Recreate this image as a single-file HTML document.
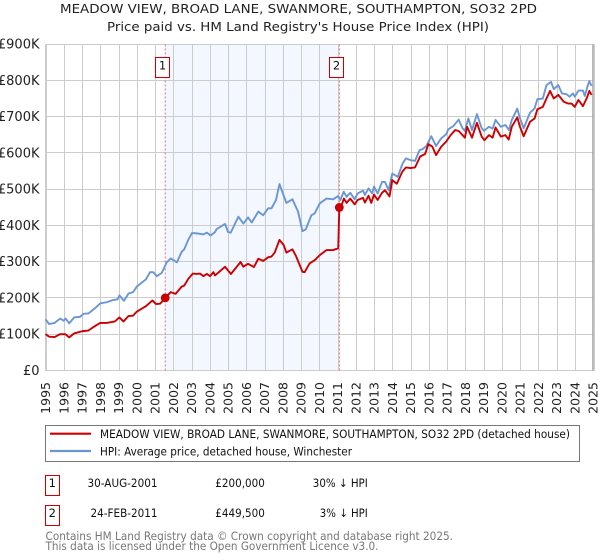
<!DOCTYPE html>
<html>
<head>
<meta charset="utf-8">
<title>Price paid vs. HPI</title>
<style>
html,body{margin:0;padding:0;background:#fff;width:600px;height:560px;overflow:hidden}
svg{display:block;font-family:"DejaVu Sans","Liberation Sans",sans-serif}
</style>
</head>
<body>
<svg id="chart" width="600" height="560" viewBox="0 0 600 560" xmlns="http://www.w3.org/2000/svg">
  <text x="298.5" y="13" text-anchor="middle" font-size="12.5" fill="#222" textLength="477" lengthAdjust="spacingAndGlyphs">MEADOW VIEW, BROAD LANE, SWANMORE, SOUTHAMPTON, SO32 2PD</text>
  <text x="298" y="31" text-anchor="middle" font-size="12.5" fill="#222" textLength="382" lengthAdjust="spacingAndGlyphs">Price paid vs. HM Land Registry's House Price Index (HPI)</text>
  <g id="plot"></g>
  <rect x="45.5" y="425.5" width="534" height="36" fill="#fff" stroke="#777" stroke-width="1"/>
  <line x1="50" x2="91" y1="433.7" y2="433.7" stroke="#cc0000" stroke-width="2.2"/>
  <text x="100" y="438" font-size="11.5" fill="#111" textLength="470" lengthAdjust="spacingAndGlyphs">MEADOW VIEW, BROAD LANE, SWANMORE, SOUTHAMPTON, SO32 2PD (detached house)</text>
  <line x1="50" x2="91" y1="451" y2="451" stroke="#6a96d4" stroke-width="2.2"/>
  <text x="100" y="455.5" font-size="11.5" fill="#111" textLength="252" lengthAdjust="spacingAndGlyphs">HPI: Average price, detached house, Winchester</text>

  <rect x="45.5" y="475.5" width="14" height="20" fill="#fff" stroke="#cc0000" stroke-width="1"/>
  <text x="52.3" y="487" text-anchor="middle" font-size="11.5" fill="#111">1</text>
  <text x="157.5" y="487" text-anchor="end" font-size="11.5" fill="#111" textLength="70" lengthAdjust="spacingAndGlyphs">30-AUG-2001</text>
  <text x="264.8" y="487" text-anchor="end" font-size="11.5" fill="#111" textLength="49.5" lengthAdjust="spacingAndGlyphs">£200,000</text>
  <text x="367.8" y="487" text-anchor="end" font-size="11.5" fill="#111" textLength="55" lengthAdjust="spacingAndGlyphs">30% ↓ HPI</text>

  <rect x="45.5" y="505.5" width="14" height="20" fill="#fff" stroke="#cc0000" stroke-width="1"/>
  <text x="52.3" y="517" text-anchor="middle" font-size="11.5" fill="#111">2</text>
  <text x="157.5" y="517" text-anchor="end" font-size="11.5" fill="#111" textLength="67" lengthAdjust="spacingAndGlyphs">24-FEB-2011</text>
  <text x="264.8" y="517" text-anchor="end" font-size="11.5" fill="#111" textLength="49.5" lengthAdjust="spacingAndGlyphs">£449,500</text>
  <text x="367.8" y="517" text-anchor="end" font-size="11.5" fill="#111" textLength="48" lengthAdjust="spacingAndGlyphs">3% ↓ HPI</text>

  <text x="45.5" y="540" font-size="11.5" fill="#777" textLength="407.5" lengthAdjust="spacingAndGlyphs">Contains HM Land Registry data © Crown copyright and database right 2025.</text>
  <text x="45.5" y="550" font-size="11.5" fill="#777" textLength="333" lengthAdjust="spacingAndGlyphs">This data is licensed under the Open Government Licence v3.0.</text>
</svg>
<script>
const yearTicks = [1995,1996,1997,1998,1999,2000,2001,2002,2003,2004,2005,2006,2007,2008,2009,2010,2011,2012,2013,2014,2015,2016,2017,2018,2019,2020,2021,2022,2023,2024,2025];
const valueTicks = [0,100,200,300,400,500,600,700,800,900];
const valueTickLabels = ['£0','£100K','£200K','£300K','£400K','£500K','£600K','£700K','£800K','£900K'];
const saleYears = [2001.56,2011.1];
const salePrices = [200,449.5];
const saleLabels = ['1','2'];
const hpiYears = [1995,1995.2,1995.5,1995.8,1996,1996.1,1996.3,1996.57,1996.9,1997.08,1997.35,1997.7,1998,1998.35,1998.7,1998.95,1999.05,1999.3,1999.55,1999.8,2000,2000.5,2000.73,2000.9,2001.1,2001.37,2001.64,2001.86,2002.2,2002.46,2002.6,2002.83,2003.03,2003.28,2003.65,2003.84,2004.05,2004.28,2004.38,2004.84,2005,2005.15,2005.57,2005.84,2006.1,2006.3,2006.66,2006.93,2007.2,2007.38,2007.63,2007.82,2008.2,2008.53,2008.84,2009.08,2009.26,2009.57,2009.75,2010.03,2010.4,2010.76,2011.03,2011.16,2011.34,2011.5,2011.7,2011.94,2012.1,2012.4,2012.5,2012.7,2012.9,2013,2013.2,2013.44,2013.6,2013.8,2014,2014.3,2014.57,2014.75,2015,2015.25,2015.5,2015.65,2015.87,2016.14,2016.4,2016.68,2016.95,2017.07,2017.35,2017.64,2017.85,2017.98,2018.17,2018.37,2018.64,2018.9,2019.03,2019.3,2019.5,2019.66,2019.95,2020.2,2020.4,2020.55,2020.85,2021,2021.2,2021.55,2021.8,2021.95,2022.25,2022.45,2022.7,2022.85,2023.1,2023.3,2023.55,2023.72,2023.9,2024,2024.2,2024.45,2024.55,2024.7,2024.8,2024.92];
const hpiValues = [141,128,131,143,137,143,130,146,148,156,157,171,185,188,194,196,207,192,212,216,231,251,271,271,260,269,298,309,298,327,334,361,379,378,375,380,372,381,390,404,382,380,424,405,422,408,438,428,447,447,470,514,462,472,438,384,389,428,433,461,474,472,481,470,493,479,490,472,488,496,484,502,488,507,488,520,520,497,543,534,571,585,580,578,608,610,619,646,619,640,651,665,674,692,668,661,695,663,707,668,661,672,667,691,672,677,663,691,722,695,668,711,723,748,750,787,796,776,787,764,762,755,764,755,772,772,757,784,798,785];
const priceYears = [1995,1995.2,1995.5,1995.8,1996.08,1996.3,1996.57,1997,1997.35,1997.7,1998,1998.35,1998.8,1999.05,1999.27,1999.55,1999.8,2000,2000.5,2000.86,2001.06,2001.28,2001.56,2001.86,2002.13,2002.46,2002.6,2002.83,2003.07,2003.28,2003.47,2003.65,2003.84,2004.02,2004.2,2004.29,2004.84,2005.16,2005.69,2005.84,2006.1,2006.42,2006.66,2006.93,2007.2,2007.38,2007.56,2007.82,2008.05,2008.2,2008.53,2008.73,2009.08,2009.2,2009.47,2009.75,2010.03,2010.4,2010.76,2011.04,2011.1,2011.2,2011.35,2011.5,2011.7,2011.94,2012.1,2012.4,2012.5,2012.7,2012.85,2013,2013.2,2013.44,2013.6,2013.85,2014,2014.25,2014.55,2014.75,2015,2015.25,2015.53,2015.8,2015.98,2016.2,2016.4,2016.68,2016.95,2017.2,2017.45,2017.65,2017.98,2018.1,2018.37,2018.64,2018.9,2019.05,2019.3,2019.5,2019.66,2019.95,2020.2,2020.38,2020.55,2020.85,2021,2021.2,2021.55,2021.8,2021.95,2022.25,2022.45,2022.65,2022.85,2023.1,2023.4,2023.65,2023.83,2024,2024.2,2024.45,2024.65,2024.8,2024.92];
const priceValues = [100,93,92,100,100,91,102,108,110,122,131,131,135,146,135,150,151,162,177,193,183,184,200,216,211,231,234,253,267,266,267,260,266,260,271,262,286,266,299,286,294,285,308,302,312,314,325,360,346,325,334,315,272,271,295,304,318,332,332,337,449.5,452,474,462,474,458,470,476,463,482,462,485,470,490,497,480,525,515,548,560,558,560,590,597,624,617,594,617,631,649,663,660,642,672,642,683,645,635,649,642,670,645,649,637,672,698,672,646,686,695,720,727,750,771,750,760,741,736,736,727,746,729,750,771,760];

const NS = 'http://www.w3.org/2000/svg';
const plot = document.getElementById('plot');
const xScale = yr => 45.5 + (yr - 1995) * 18.25;
const yScale = v => 370.4 - v * 0.3625;
const left = 45.5, right = 594.5, top_ = 44.5, bottom = 370.5;

function mk(tag, attrs, parent) {
  const el = document.createElementNS(NS, tag);
  for (const k in attrs) el.setAttribute(k, attrs[k]);
  (parent || plot).appendChild(el);
  return el;
}
function pathFrom(xs, ys) {
  return xs.map((x, i) => (i ? 'L' : 'M') + xScale(x).toFixed(2) + ' ' + yScale(ys[i]).toFixed(2)).join('');
}

const shade = mk('rect', {x: xScale(saleYears[0]), y: top_, width: xScale(saleYears[1]) - xScale(saleYears[0]), height: bottom - top_, fill: '#f3f7ff'});



yearTicks.forEach(yr => {
  const px = Math.round(xScale(yr)) + 0.5;
  const g = mk('line', {x1: px, x2: px, y1: top_, y2: bottom, stroke: '#cccccc', 'stroke-width': 1});
  
  
  const t = mk('text', {transform: 'translate(' + (xScale(yr) + 4.6) + ',382) rotate(-90)', 'text-anchor': 'end', 'font-size': 12.5, fill: '#222'});
  t.textContent = yr;
  
  
});
valueTicks.forEach((v, i) => {
  const py = Math.round(yScale(v) - 0.5) + 0.5;
  const g = mk('line', {x1: left, x2: right, y1: py, y2: py, stroke: '#cccccc', 'stroke-width': 1});
  
  
  const t = mk('text', {x: 39.5, y: yScale(v) + 4.5, 'text-anchor': 'end', 'font-size': 13, fill: '#222'});
  t.textContent = valueTickLabels[i];
  
  
});
const edgeLeft = mk('line', {x1: left, x2: left, y1: top_, y2: bottom, stroke: '#cccccc', 'stroke-width': 1});


const edgeRight = mk('line', {x1: right, x2: right, y1: top_, y2: bottom, stroke: '#cccccc', 'stroke-width': 1});


const endLine = mk('line', {x1: 592.8, x2: 592.8, y1: top_, y2: bottom, stroke: '#999999', 'stroke-width': 1});



saleYears.forEach((yr, i) => {
  const px = xScale(yr);
  const l = mk('line', {x1: px, x2: px, y1: top_, y2: bottom, stroke: '#e8707a', 'stroke-width': 1, 'stroke-dasharray': '2 2'});
  
  
  const b = mk('rect', {x: Math.round(px) - 9.5, y: 57.5, width: 14, height: 20, fill: '#fff', stroke: '#cc0000', 'stroke-width': 1});
  
  
  const t = mk('text', {x: Math.round(px) - 2.5, y: 69.5, 'text-anchor': 'middle', 'font-size': 11.5, fill: '#111'});
  t.textContent = saleLabels[i];
  
  
});

const hpiLine = mk('path', {d: pathFrom(hpiYears, hpiValues), fill: 'none', stroke: '#6a96d4', 'stroke-width': 1.9, 'stroke-linejoin': 'round'});


const priceLine = mk('path', {d: pathFrom(priceYears, priceValues), fill: 'none', stroke: '#cc0000', 'stroke-width': 1.9, 'stroke-linejoin': 'round'});



saleYears.forEach((yr, i) => {
  const c = mk('circle', {cx: xScale(yr), cy: yScale(salePrices[i]), r: 4.4, fill: '#cc0000'});
  
  
});
</script>
</body>
</html>
